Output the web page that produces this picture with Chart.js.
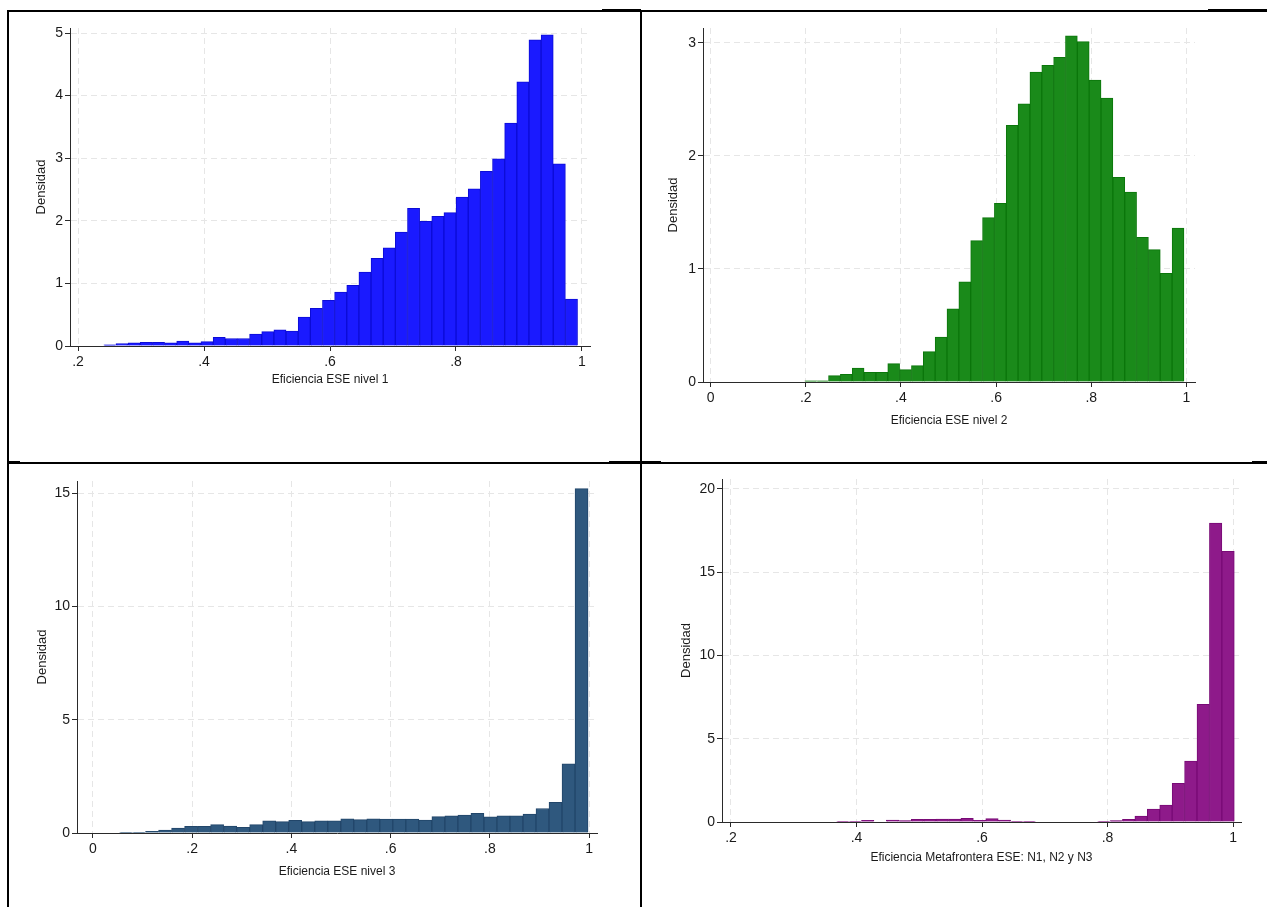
<!DOCTYPE html>
<html lang="es">
<head>
<meta charset="utf-8">
<title>Histogramas de eficiencia ESE</title>
<script src="https://cdn.jsdelivr.net/npm/chart.js@4.4.1/dist/chart.umd.min.js"></script>
<style>
  html, body { margin: 0; padding: 0; background: #fff; }
  #page { position: relative; width: 1267px; height: 907px; overflow: hidden; background: #fff; }
  canvas { position: absolute; }
  .rule { position: absolute; background: #000; }
</style>
</head>
<body>
<div id="page">
  <!-- bordes de la tabla -->
  <div class="rule" style="left:7px;top:10px;width:1260px;height:2px"></div>
  <div class="rule" style="left:602px;top:9px;width:39px;height:3px"></div>
  <div class="rule" style="left:1208px;top:9px;width:59px;height:3px"></div>
  <div class="rule" style="left:7px;top:10px;width:2px;height:897px"></div>
  <div class="rule" style="left:640px;top:10px;width:2px;height:897px"></div>
  <div class="rule" style="left:7px;top:462px;width:1260px;height:2px"></div>
  <div class="rule" style="left:7px;top:461px;width:13px;height:3px"></div>
  <div class="rule" style="left:609px;top:461px;width:52px;height:3px"></div>
  <div class="rule" style="left:1252px;top:461px;width:15px;height:3px"></div>

  <canvas id="hist1" width="631" height="450" style="left:9px;top:12px"></canvas>
  <canvas id="hist2" width="625" height="450" style="left:642px;top:12px"></canvas>
  <canvas id="hist3" width="631" height="442" style="left:9px;top:465px"></canvas>
  <canvas id="hist4" width="625" height="442" style="left:642px;top:465px"></canvas>
</div>
<script>
(function(){
  'use strict';

  // ---- datos (densidad por intervalo) ----
  const yTitle = 'Densidad';
  const xTitles = [
    'Eficiencia ESE nivel 1',
    'Eficiencia ESE nivel 2',
    'Eficiencia ESE nivel 3',
    'Eficiencia Metafrontera ESE: N1, N2 y N3'
  ];

  // nivel 1: 39 intervalos
  const binStart1 = 0.241, binWidth1 = 0.01928;
  const density1 = [0.02, 0.04, 0.05, 0.06, 0.06, 0.05, 0.08, 0.05, 0.07, 0.14,
    0.12, 0.12, 0.19, 0.23, 0.26, 0.24, 0.46, 0.60, 0.73, 0.86,
    0.97, 1.18, 1.40, 1.57, 1.82, 2.20, 1.99, 2.07, 2.13, 2.38,
    2.51, 2.79, 2.99, 3.56, 4.22, 4.89, 4.97, 2.91, 0.75];
  const xTicks1 = [0.2, 0.4, 0.6, 0.8, 1];
  const xTickLabels1 = ['.2', '.4', '.6', '.8', '1'];
  const yTicks1 = [0, 1, 2, 3, 4, 5];

  // nivel 2: 32 intervalos
  const binStart2 = 0.198, binWidth2 = 0.0249;
  const density2 = [0.01, 0.01, 0.056, 0.068, 0.124, 0.086, 0.086, 0.162, 0.109, 0.145,
    0.268, 0.398, 0.646, 0.885, 1.25, 1.454, 1.58, 2.27, 2.46, 2.74,
    2.80, 2.87, 3.06, 3.01, 2.67, 2.51, 1.81, 1.68, 1.28, 1.17,
    0.96, 1.36];
  const xTicks2 = [0, 0.2, 0.4, 0.6, 0.8, 1];
  const xTickLabels2 = ['0', '.2', '.4', '.6', '.8', '1'];
  const yTicks2 = [0, 1, 2, 3];

  // nivel 3: 36 intervalos
  const binStart3 = 0.0537, binWidth3 = 0.02623;
  const density3 = [0.03, 0.03, 0.07, 0.13, 0.22, 0.29, 0.29, 0.37, 0.31, 0.25,
    0.37, 0.54, 0.50, 0.56, 0.50, 0.54, 0.54, 0.63, 0.59, 0.63,
    0.62, 0.62, 0.62, 0.57, 0.72, 0.76, 0.79, 0.87, 0.71, 0.76,
    0.76, 0.84, 1.08, 1.35, 3.05, 15.2];
  const xTicks3 = [0, 0.2, 0.4, 0.6, 0.8, 1];
  const xTickLabels3 = ['0', '.2', '.4', '.6', '.8', '1'];
  const yTicks3 = [0, 5, 10, 15];

  // metafrontera: 40 intervalos
  const binStart4 = 0.21, binWidth4 = 0.0198;
  const density4 = [0, 0, 0, 0, 0, 0, 0, 0, 0.04, 0.04,
    0.10, 0, 0.12, 0.08, 0.16, 0.16, 0.18, 0.18, 0.22, 0.10,
    0.20, 0.12, 0.04, 0.04, 0, 0, 0, 0, 0, 0.04,
    0.08, 0.16, 0.36, 0.78, 1.02, 2.32, 3.66, 7.06, 17.96, 16.26];
  const xTicks4 = [0.2, 0.4, 0.6, 0.8, 1];
  const xTickLabels4 = ['.2', '.4', '.6', '.8', '1'];
  const yTicks4 = [0, 5, 10, 15, 20];

  // ---- estilo ----
  const narrow = "'Liberation Sans Narrow', 'Liberation Sans', Arial, sans-serif";
  const plain = "'Liberation Sans', Arial, sans-serif";
  const axisCol = '#2a2a2a';
  const gridCol = '#e6e6e6';
  const textCol = '#1a1a1a';

  const panels = [
    { id: 'hist1', start: binStart1, width: binWidth1, density: density1,
      xTicks: xTicks1, xLabels: xTickLabels1, yTicks: yTicks1, xTitle: xTitles[0],
      xRange: [0.1873, 1.0127], yMax: 5.08, fill: '#1a1aff', line: '#0c0cd6',
      yAxisW: 36, xAxisH: 41.2, pad: { left: 25, top: 16, right: 50, bottom: 74.8 } },
    { id: 'hist2', start: binStart2, width: binWidth2, density: density2,
      xTicks: xTicks2, xLabels: xTickLabels2, yTicks: yTicks2, xTitle: xTitles[1],
      xRange: [-0.016, 1.018], yMax: 3.13, fill: '#1a8a1a', line: '#0b760b',
      yAxisW: 37, xAxisH: 46.2, pad: { left: 24, top: 16, right: 72, bottom: 33.8 } },
    { id: 'hist3', start: binStart3, width: binWidth3, density: density3,
      xTicks: xTicks3, xLabels: xTickLabels3, yTicks: yTicks3, xTitle: xTitles[2],
      xRange: [-0.032, 1.016], yMax: 15.54, fill: '#2f587e', line: '#22466a',
      yAxisW: 42.8, xAxisH: 46.2, pad: { left: 25.2, top: 16, right: 43, bottom: 27.8 } },
    { id: 'hist4', start: binStart4, width: binWidth4, density: density4,
      xTicks: xTicks4, xLabels: xTickLabels4, yTicks: yTicks4, xTitle: xTitles[3],
      xRange: [0.1857, 1.0127], yMax: 20.6, fill: '#8e1a8a', line: '#780a76',
      yAxisW: 43.8, xAxisH: 43.2, pad: { left: 36.2, top: 14, right: 26, bottom: 41.8 } }
  ];

  function makeHist(p) {
    const el = document.getElementById(p.id);
    if (!el) return;
    // cada barra centrada en su intervalo
    const pts = p.density.map((d, i) => ({ x: p.start + p.width * (i + 0.5), y: d }));
    const tickFont = { family: narrow, size: 14 };

    new Chart(el.getContext('2d'), {
      type: 'bar',
      data: {
        datasets: [{
          data: pts,
          backgroundColor: p.fill,
          borderColor: p.line,
          borderWidth: 1,
          borderSkipped: 'start',
          barPercentage: 1,
          categoryPercentage: 1
        }]
      },
      options: {
        responsive: false,
        animation: false,
        devicePixelRatio: 1,
        layout: { padding: p.pad },
        plugins: { legend: { display: false }, tooltip: { enabled: false } },
        scales: {
          x: {
            type: 'linear',
            min: p.xRange[0],
            max: p.xRange[1],
            offset: false,
            afterBuildTicks: s => { s.ticks = p.xTicks.map(v => ({ value: v })); },
            afterFit: s => { s.height = p.xAxisH; },
            ticks: {
              callback: (v, i) => p.xLabels[i],
              font: tickFont, color: textCol, padding: 3,
              autoSkip: false, maxRotation: 0
            },
            grid: { offset: false, color: gridCol, lineWidth: 1, tickLength: 5,
                    tickColor: axisCol, tickWidth: 1, tickBorderDash: [] },
            border: { display: true, color: axisCol, width: 1, dash: [6, 4] },
            title: { display: true, text: p.xTitle, color: textCol,
                     font: { family: narrow, size: 12 }, padding: { top: 0, bottom: 0 } }
          },
          y: {
            type: 'linear',
            min: 0,
            max: p.yMax,
            afterBuildTicks: s => { s.ticks = p.yTicks.map(v => ({ value: v })); },
            afterFit: s => { s.width = p.yAxisW; },
            ticks: { callback: v => String(v), font: tickFont, color: textCol, padding: 2 },
            grid: { color: gridCol, lineWidth: 1, tickLength: 5,
                    tickColor: axisCol, tickWidth: 1, tickBorderDash: [] },
            border: { display: true, color: axisCol, width: 1, dash: [6, 4] },
            title: { display: true, text: yTitle, color: textCol,
                     font: { family: plain, size: 13 }, padding: { top: 0, bottom: 0 } }
          }
        }
      }
    });
  }

  if (typeof Chart === 'undefined') {
    console.warn('Chart.js no está cargado.');
    return;
  }
  panels.forEach(makeHist);
})();
</script>
</body>
</html>
